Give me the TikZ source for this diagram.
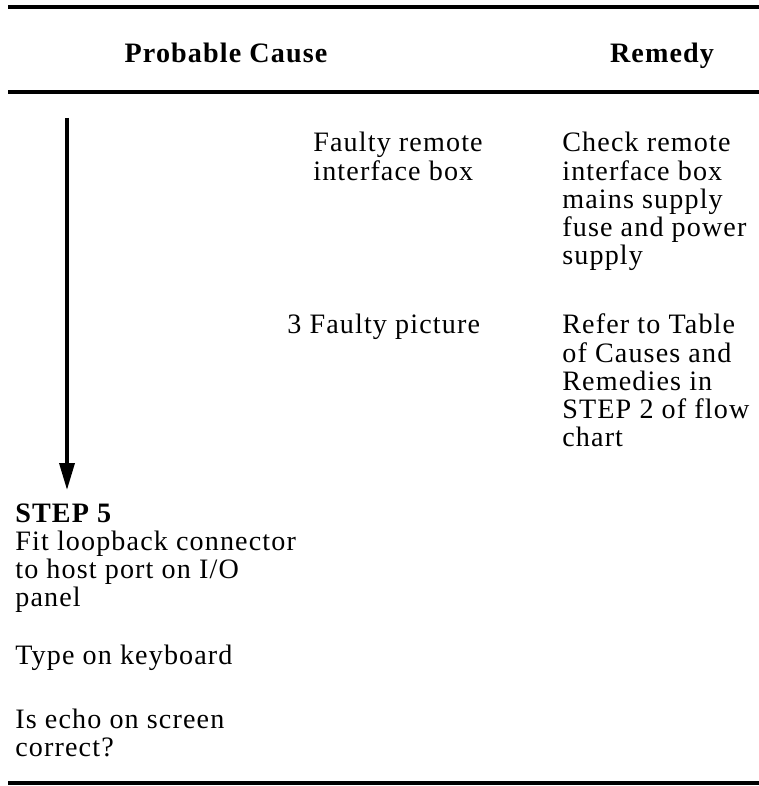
\documentclass[tikz,border=0pt]{standalone}
\usepackage{fontspec}
\setmainfont{Liberation Serif}[LetterSpace=4]
\usetikzlibrary{arrows.meta}
\newcommand\cellrows[1]{\begin{tabular}[t]{@{}l@{}}#1\end{tabular}}
\begin{document}
\begin{tikzpicture}[x=0.02cm, y=-0.02cm,
		rule/.style={line width=2pt},
		flow/.style={line width=2pt, -{Triangle[length=0.54cm, width=0.3cm]}},
		txt/.style={anchor=base west, inner sep=0pt, font=\fontsize{16}{15.94}\selectfont},
		head/.style={anchor=base, inner sep=0pt, font=\fontsize{16}{16}\selectfont\bfseries}]
		\useasboundingbox (0,0) rectangle (759,786);
		
		% table rules
		\draw[rule] (8,7) -- (759,7);
		\draw[rule] (8,92) -- (759,92);
		\draw[rule] (8,783) -- (759,783);
		
		% column heads
		\node[head] (cause) at (226,63) {Probable Cause};
		\node[head] (remedy) at (662,63) {Remedy};
		
		% causes and remedies
		\node[txt] (box) at (313,152) {\cellrows{Faulty remote\\interface box}};
		\node[txt] (boxfix) at (562,152) {\cellrows{Check remote\\interface box\\mains supply\\fuse and power\\supply}};
		\node[txt] (pic) at (287,334) {3 Faulty picture};
		\node[txt] (picfix) at (562,334) {\cellrows{Refer to Table\\of Causes and\\Remedies in\\STEP 2 of flow\\chart}};
		
		% next step
		\node[txt] (step) at (15,522) {\cellrows{\textbf{STEP 5}\\Fit loopback connector\\to host port on I/O\\panel}};
		\node[txt] (type) at (15,664) {Type on keyboard};
		\node[txt] (echo) at (15,728) {\cellrows{Is echo on screen\\correct?}};
		
		\coordinate (from) at (67,118);
		\coordinate (to) at (67,490);
		\draw[flow] (from) -- (to);
	\end{tikzpicture}
\end{document}
